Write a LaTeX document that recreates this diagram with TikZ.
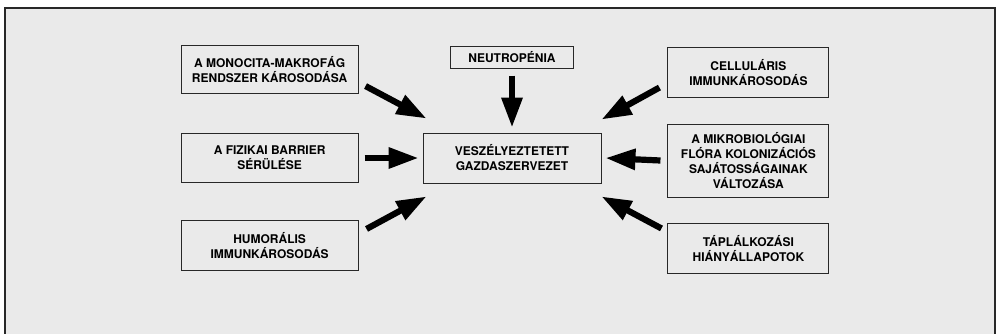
\documentclass[tikz,border=0pt]{standalone}
\usepackage{fontspec}
\setmainfont{TeX Gyre Heros}
\usetikzlibrary{positioning}
\usetikzlibrary{arrows.meta}

\definecolor{bggray}{RGB}{234,234,234}
\definecolor{ink}{RGB}{40,40,40}

\tikzset{
  factor/.style={draw=ink, line width=0.9pt, fill=bggray, align=center,
    inner sep=0pt, font=\fontsize{12}{15}\selectfont\bfseries},
  push/.style={line width=6.2pt, draw=black, -{Triangle[length=30pt,width=20pt]}},
}

\begin{document}
\begin{tikzpicture}[x=1pt,y=-1pt]
    \clip (0,0) rectangle (999,333);
    \fill[white] (0,0) rectangle (999,333);
    \draw[fill=bggray, draw=ink, line width=1.4pt] (5,8) rectangle (995,350);

    \node[factor, minimum width=178pt, minimum height=50pt] (host) at (512,158) {VESZÉLYEZTETETT\\GAZDASZERVEZET};
    \node[factor, minimum width=123pt, minimum height=22pt, above=64pt of host] (neu) {NEUTROPÉNIA};

    \node[factor, minimum width=177pt, minimum height=49pt, left=64pt of host] (bar) {A FIZIKAI BARRIER\\SÉRÜLÉSE};
    \node[factor, minimum width=177pt, minimum height=48pt, above=39pt of bar] (mono) {A MONOCITA-MAKROFÁG\\RENDSZER KÁROSODÁSA};
    \node[factor, minimum width=177pt, minimum height=50pt, below=37pt of bar] (hum) {HUMORÁLIS\\IMMUNKÁROSODÁS};

    \node[factor, minimum width=161pt, minimum height=73pt, right=66pt of host, yshift=-2.5pt] (mik) {A MIKROBIOLÓGIAI\\FLÓRA KOLONIZÁCIÓS\\SAJÁTOSSÁGAINAK\\VÁLTOZÁSA};
    \node[factor, minimum width=161pt, minimum height=50pt, above=26pt of mik] (cel) {CELLULÁRIS\\IMMUNKÁROSODÁS};
    \node[factor, minimum width=161pt, minimum height=50pt, below=26pt of mik] (tap) {TÁPLÁLKOZÁSI\\HIÁNYÁLLAPOTOK};

    % Arrows
    \draw[push] ([xshift=7pt,yshift=8pt]mono.south east) -- ([xshift=4pt,yshift=14pt]host.north west);
    \draw[push] ([xshift=6pt]bar.east) -- ([xshift=-4pt]host.west);
    \draw[push] ([xshift=8pt,yshift=-9pt]hum.north east) -- ([xshift=4pt,yshift=-13pt]host.south west);
    \draw[push] ([yshift=-7pt]neu.south) -- ([yshift=5pt]host.north);
    \draw[push] ([xshift=-8pt,yshift=10pt]cel.south west) -- ([yshift=13pt]host.north east);
    \draw[push] ([xshift=-7pt]mik.west) -- ([xshift=4pt]host.east);
    \draw[push] ([xshift=-6pt,yshift=-5pt]tap.north west) -- ([yshift=-13pt]host.south east);
\end{tikzpicture}
\end{document}
